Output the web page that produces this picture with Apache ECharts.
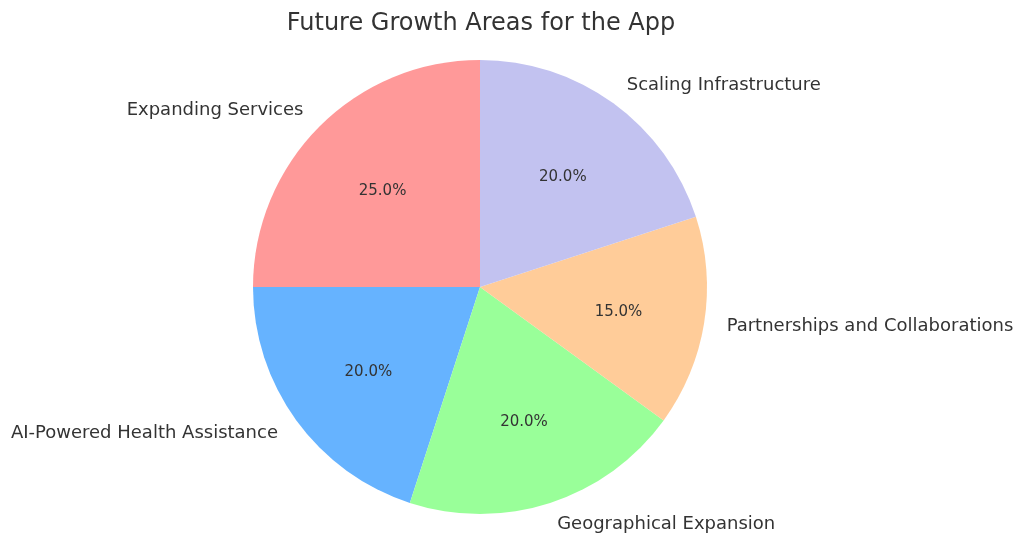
<!DOCTYPE html>
<html><head><meta charset="utf-8">
<script src="https://cdn.jsdelivr.net/npm/echarts@6/dist/echarts.min.js"></script>
<style>html,body{margin:0;padding:0;background:#fff}#c{width:1024px;height:548px}</style>
</head><body><div id="c"></div>
<script>
const categories = ["Expanding Services","AI-Powered Health Assistance","Geographical Expansion","Partnerships and Collaborations","Scaling Infrastructure"];
const values = [25, 20, 20, 15, 20];
const colors = ["#ff9999","#66b3ff","#99ff99","#ffcc99","#c2c2f0"];
const title = "Future Growth Areas for the App";

const R = 227, CX = 480, CY = 287;
const total = values.reduce((a,b)=>a+b,0);
const data = categories.map((c,i)=>({name:c, value:values[i], itemStyle:{color:colors[i]}}));
const font = "DejaVu Sans";
const chart = echarts.init(document.getElementById('c'), null, {renderer:'canvas'});
chart.setOption({
  animation:false,
  title:{text:title, left:476, top:7, textAlign:'center',
    textStyle:{fontFamily:font, fontSize:24, fontWeight:'normal', color:'#333'}},
  series:[
    {type:'pie', center:[CX,CY], radius:[0,R], startAngle:90, clockwise:false,
     avoidLabelOverlap:false, data:data, silent:true,
     itemStyle:{borderWidth:0},
     label:{show:true, position:'outside', formatter:'{b}', fontFamily:font, fontSize:18, color:'#333', distanceToLabelLine:0},
     labelLine:{show:false, length:R*0.1, length2:0}},
    {type:'pie', center:[CX,CY], radius:[0,R*1.2], startAngle:90, clockwise:false,
     avoidLabelOverlap:false, silent:true,
     data:categories.map((c,i)=>({name:c, value:values[i], itemStyle:{color:'rgba(0,0,0,0)'}})),
     label:{show:true, position:'inside', formatter:p=>(p.value/total*100).toFixed(1)+'%', fontFamily:font, fontSize:15, color:'#333', offset:[1,3]},
     labelLine:{show:false}}
  ]
});
</script></body></html>
